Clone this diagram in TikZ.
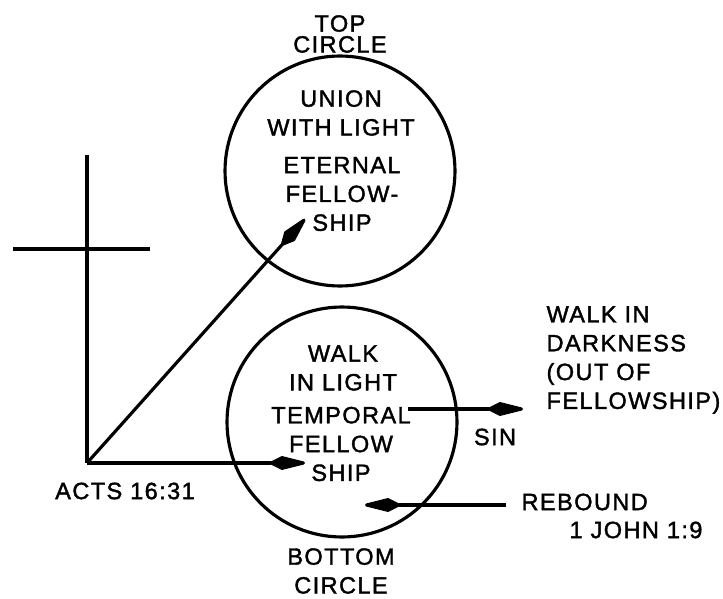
\documentclass[tikz,border=0pt]{standalone}
\usepackage{fontspec}
\newfontfamily\diagfont{Liberation Sans}[LetterSpace=6,FakeBold=1.6]
\usetikzlibrary{arrows.meta}
\begin{document}
\begin{tikzpicture}[x=0.02cm,y=-0.02cm,line width=1.8pt,
  ring/.style={draw,circle,minimum size=4.6cm,inner sep=0pt},
  words/.style={font=\diagfont\fontsize{13.4}{16.4}\selectfont,align=center,inner sep=0pt},
  spear/.style={-{Kite[length=24pt,width=8pt,inset=8pt,round]}}]
  \useasboundingbox (0,0) rectangle (723,598);
  % the two circles
  \node[ring] (top) at (340,171) {};
  \node[ring] (bottom) at (342,422) {};
  \node[words] (toplbl) at (340,34) {TOP\\[-4.5pt]CIRCLE};
  \node[words] (union) at (341,113) {UNION\\WITH LIGHT};
  \node[words] (eternal) at (342,194) {ETERNAL\\FELLOW-\\SHIP};
  \node[words] (walk) at (343,368) {WALK\\IN LIGHT};
  \node[words] (temporal) at (341,444) {TEMPORAL\\FELLOW\\SHIP};
  \node[words] (botlbl) at (341,571) {BOTTOM\\CIRCLE};
  % cross
  \draw (87,155) -- (87,463);
  \draw (13,249) -- (150,249);
  \coordinate (acts) at (87,463);
  \node[words] (actslbl) at (125,491) {ACTS 16:31};
  \coordinate (eternalin) at (305,219);
  \coordinate (temporalin) at (305,463);
  \draw[spear] (acts) -- (eternalin);
  \draw[spear] (acts) -- (temporalin);
  % right side
  \node[words,align=left,anchor=west] (dark) at (545,360) {WALK IN\\DARKNESS\\(OUT OF\\FELLOWSHIP)};
  \coordinate (sinfrom) at (408,409);
  \coordinate (sinto) at (523,409);
  \draw[spear] (sinfrom) -- (sinto);
  \node[words] (sin) at (495,437) {SIN};
  \node[words,anchor=west] (rebound) at (520,502) {REBOUND};
  \node[words,anchor=west] (john) at (568,530) {1 JOHN 1:9};
  \coordinate (rebfrom) at (506,505);
  \coordinate (rebto) at (365,505);
  \draw[spear] (rebfrom) -- (rebto);
\end{tikzpicture}
\end{document}
